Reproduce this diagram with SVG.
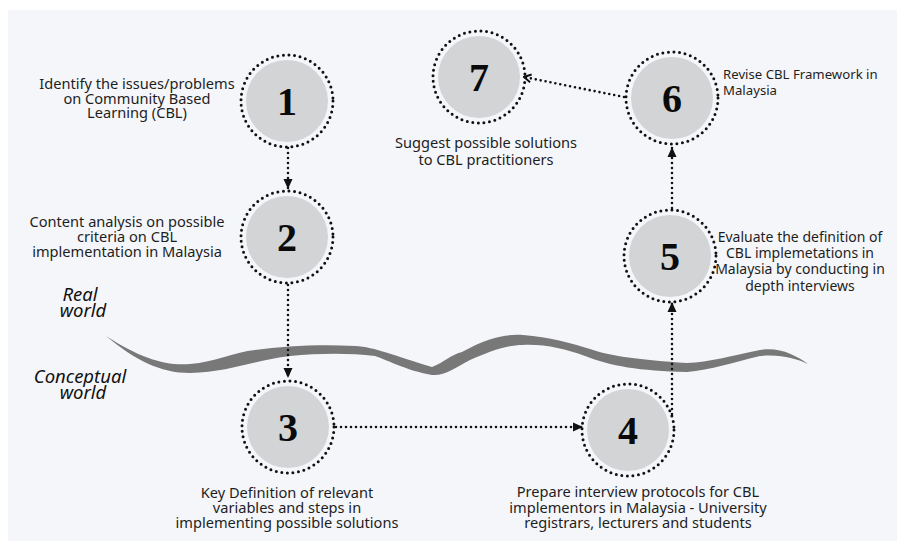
<svg xmlns="http://www.w3.org/2000/svg" width="897" height="541" viewBox="0 0 897 541">
<style>
.dot{fill:none;stroke:#111;stroke-width:3;stroke-dasharray:0 5.6;stroke-linecap:round}
.disc{fill:#d2d4d5}
.num{font-family:"Liberation Serif","DejaVu Serif",serif;font-weight:bold;font-size:40px;fill:#0a0a0a;text-anchor:middle}
.lbl{font-family:"Noto Sans","Open Sans",sans-serif;font-size:14.6px;fill:#1e1e1e;text-anchor:middle}
.lbl5{font-family:"Noto Sans","Open Sans",sans-serif;font-size:14px;fill:#1e1e1e;text-anchor:middle}
.lbls{font-family:"Noto Sans","Open Sans",sans-serif;font-size:13.2px;fill:#1e1e1e}
.world{font-family:"Noto Sans","Open Sans",sans-serif;font-style:italic;font-size:18.5px;fill:#111;text-anchor:middle}
.con{fill:none;stroke:#111;stroke-width:2.6;stroke-dasharray:0 5;stroke-linecap:round}
</style>
<defs>
<marker id="ah" markerUnits="userSpaceOnUse" markerWidth="10" markerHeight="10" viewBox="0 0 10 10" refX="10" refY="5" orient="auto">
<path d="M0,0.5 L10,5 L0,9.5 Z" fill="#111"/>
</marker>
<marker id="chev" markerUnits="userSpaceOnUse" markerWidth="10" markerHeight="10" viewBox="0 0 10 10" refX="9" refY="5" orient="auto">
<path d="M2,1 L9,5 L2,9" fill="none" stroke="#111" stroke-width="2"/>
</marker>
</defs>
<rect x="0" y="0" width="897" height="541" fill="#ffffff"/>
<rect x="8" y="10" width="889" height="531" fill="#f5f6fa"/>

<path id="wave" fill="#787878" d="M106,336 C140,358 165,366 190,364 C215,362 235,352 255,350 C285,346 320,344 355,346 C375,347 395,356 432,367 C445,362 450,355 462,352 C490,336 510,334 523,335 C550,337 570,343 590,349 C610,356 640,360 687,363 C710,362 730,356 760,350 C780,347 795,355 808,364 C795,358 780,354 760,356 C735,362 710,370 687,372 C640,371 610,366 585,356 C565,349 545,344 523,345 C505,345 488,352 470,360 C455,368 445,376 432,375 C405,370 390,361 375,356 C350,353 320,353 290,356 C255,360 230,372 190,373 C160,373 135,360 106,336 Z"/>

<text class="world" x="80" y="301">Real</text>
<text class="world" x="83" y="317">world</text>
<text class="world" x="80" y="383">Conceptual</text>
<text class="world" x="83" y="399">world</text>

<g id="connectors">
<path class="con" d="M288,148 L288,189" marker-end="url(#ah)"/>
<path class="con" d="M288,285 L288,378" marker-end="url(#ah)"/>
<path class="con" d="M336,427 L583,427" marker-end="url(#ah)"/>
<path class="con" d="M672,414 L672,302" marker-end="url(#ah)"/>
<path class="con" d="M672,208 L672,147" marker-end="url(#ah)"/>
<path class="con" d="M624,97 L524,77" marker-end="url(#chev)"/>
</g>

<g id="n1">
<circle class="disc" cx="287" cy="101" r="41"/>
<circle class="dot" cx="287" cy="101" r="46"/>
<text class="num" x="287" y="115">1</text>
<text class="lbl" x="137" y="89">Identify the issues/problems</text>
<text class="lbl" x="137" y="104">on Community Based</text>
<text class="lbl" x="137" y="118">Learning (CBL)</text>
</g>
<g id="n2">
<circle class="disc" cx="287" cy="237" r="41"/>
<circle class="dot" cx="287" cy="237" r="46"/>
<text class="num" x="287" y="251">2</text>
<text class="lbl" x="127" y="227">Content analysis on possible</text>
<text class="lbl" x="127" y="242">criteria on CBL</text>
<text class="lbl" x="127" y="257">implementation in Malaysia</text>
</g>
<g id="n3">
<circle class="disc" cx="288" cy="427" r="41"/>
<circle class="dot" cx="288" cy="427" r="46"/>
<text class="num" x="288" y="441">3</text>
<text class="lbl" x="287" y="498">Key Definition of relevant</text>
<text class="lbl" x="287" y="513">variables and steps in</text>
<text class="lbl" x="287" y="528">implementing possible solutions</text>
</g>
<g id="n4">
<circle class="disc" cx="628" cy="430" r="41"/>
<circle class="dot" cx="628" cy="430" r="46"/>
<text class="num" x="628" y="444">4</text>
<text class="lbl" x="638" y="497">Prepare interview protocols for CBL</text>
<text class="lbl" x="638" y="513">implementors in Malaysia - University</text>
<text class="lbl" x="638" y="528">registrars, lecturers and students</text>
</g>
<g id="n5">
<circle class="disc" cx="670" cy="256" r="41"/>
<circle class="dot" cx="670" cy="256" r="46"/>
<text class="num" x="670" y="270">5</text>
<text class="lbl5" x="800" y="242">Evaluate the definition of</text>
<text class="lbl5" x="800" y="258">CBL implemetations in</text>
<text class="lbl5" x="800" y="274">Malaysia by conducting in</text>
<text class="lbl5" x="800" y="291">depth interviews</text>
</g>
<g id="n6">
<circle class="disc" cx="672" cy="98" r="41"/>
<circle class="dot" cx="672" cy="98" r="46"/>
<text class="num" x="672" y="112">6</text>
<text class="lbls" x="723" y="79">Revise CBL Framework in</text>
<text class="lbls" x="723" y="95">Malaysia</text>
</g>
<g id="n7">
<circle class="disc" cx="479" cy="77" r="41"/>
<circle class="dot" cx="479" cy="77" r="46"/>
<text class="num" x="479" y="91">7</text>
<text class="lbl" x="486" y="148">Suggest possible solutions</text>
<text class="lbl" x="486" y="165">to CBL practitioners</text>
</g>
</svg>
